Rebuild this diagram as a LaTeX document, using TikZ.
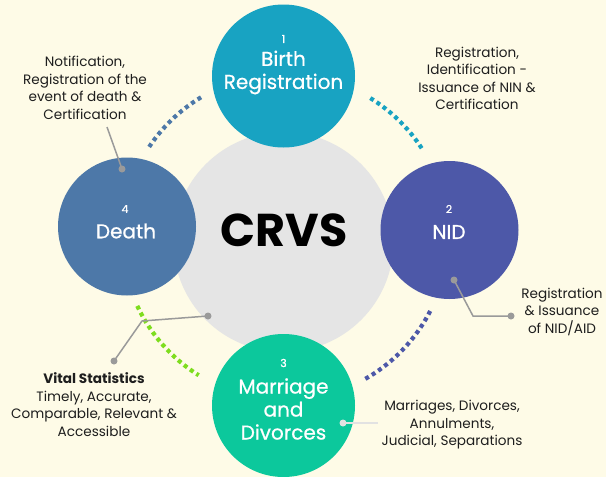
\documentclass[tikz,border=0pt]{standalone}
\usepackage{fontspec}
\setmainfont{Poppins}
\newfontfamily\medfont{Poppins}[FakeBold=0.7]
\definecolor{bg}{HTML}{FEFBE7}
\definecolor{graybig}{HTML}{E5E5E5}
\definecolor{birthc}{HTML}{18A3C2}
\definecolor{nidc}{HTML}{4D58A8}
\definecolor{deathc}{HTML}{4D78A8}
\definecolor{marc}{HTML}{0CC89C}
\definecolor{limec}{HTML}{7EDD1E}
\definecolor{leadc}{HTML}{9A9A9A}
\definecolor{leadl}{HTML}{E2E2E2}
\definecolor{txt}{HTML}{1E1E1E}
\begin{document}
\begin{tikzpicture}[x=1pt,y=-1pt,
  bigcirc/.style={circle, inner sep=0pt, minimum size=#1},
  intxt/.style={text=white, align=center, inner sep=0pt, font=\medfont\fontsize{20}{23}\selectfont},
  numtxt/.style={text=white, inner sep=0pt, font=\medfont\fontsize{11}{13}\selectfont},
  note/.style={text=txt, align=center, inner sep=0pt, font=\fontsize{13.6}{17.5}\selectfont},
  dotarc/.style={line width=4.2pt, dash pattern=on 4pt off 3.6pt},
  leader/.style={draw=leadc, line width=1.5pt},
  ldot/.style={fill=leadc}
]
\useasboundingbox (0,0) rectangle (606,477);
\fill[bg] (0,0) rectangle (606,477);

% dotted arcs
\coordinate (c) at (285,237);
\draw[dotarc, deathc] (c) ++(-121:163) arc[start angle=-121, end angle=-147, radius=163];
\draw[dotarc, birthc] (c) ++(-33:163) arc[start angle=-33, end angle=-59, radius=163];
\draw[dotarc, nidc] (c) ++(27:163) arc[start angle=27, end angle=61, radius=163];
\draw[dotarc, limec] (c) ++(-205:163) arc[start angle=-205, end angle=-238, radius=163];

% central circle
\node[bigcirc=220pt, fill=graybig] (crvs) at (283.5,242) {};
\node[inner sep=0pt, font=\fontsize{46}{50}\selectfont\bfseries, text=black] (crvst) at (284,230) {CRVS};

% four circles
\node[bigcirc=143pt, fill=birthc] (birth) at (283.5,76) {};
\node[bigcirc=138pt, fill=nidc] (nid) at (449.5,230) {};
\node[bigcirc=143pt, fill=marc] (mar) at (283.5,405.5) {};
\node[bigcirc=138pt, fill=deathc] (death) at (127,226.5) {};

\node[numtxt] (n1) at (283.5,39) {1};
\node[intxt] (t1) at (283.5,72.5) {Birth\\Registration};
\node[numtxt] (n2) at (449,209) {2};
\node[intxt] (t2) at (449,232) {NID};
\node[numtxt] (n3) at (283.5,363) {3};
\node[intxt] (t3) at (283.5,409) {Marriage\\and\\Divorces};
\node[numtxt] (n4) at (125,209) {4};
\node[intxt] (t4) at (126,231) {Death};

% annotations
\node[note] (a1) at (85,88) {Notification,\\Registration of the\\event of death \&\\Certification};
\node[note] (a2) at (477,78.5) {Registration,\\Identification -\\Issuance of NIN \&\\Certification};
\node[note] (a3) at (562,311.5) {Registration\\\& Issuance\\of NID/AID};
\node[note] (a4) at (94,404.5) {\textbf{Vital Statistics}\\Timely, Accurate,\\Comparable, Relevant \&\\Accessible};
\node[note] (a5) at (452,425) {Marriages, Divorces,\\Annulments,\\Judicial, Separations};

% leaders
\coordinate (d1) at (107,127);
\coordinate (d2) at (122,169);
\draw[leader] (d1) -- (d2);
\fill[ldot] (d2) circle[radius=3.5pt];

\coordinate (i1) at (454,280);
\coordinate (i2) at (473,316);
\coordinate (i3) at (511,316);
\draw[leader] (i1) -- (i2) -- (i3);
\fill[ldot] (i1) circle[radius=3.5pt];
\fill[ldot] (i3) circle[radius=3.5pt];

\coordinate (v1) at (208,316);
\coordinate (v2) at (142,321);
\coordinate (v3) at (114,361);
\draw[leader] (v1) -- (v2) -- (v3);
\fill[ldot] (v1) circle[radius=3.5pt];
\fill[ldot] (v3) circle[radius=3.5pt];

\coordinate (m1) at (343,423);
\coordinate (m2) at (378,423);
\draw[draw=leadl, line width=1.5pt] (m1) -- (m2);
\fill[leadl] (m1) circle[radius=3.5pt];
\end{tikzpicture}
\end{document}
